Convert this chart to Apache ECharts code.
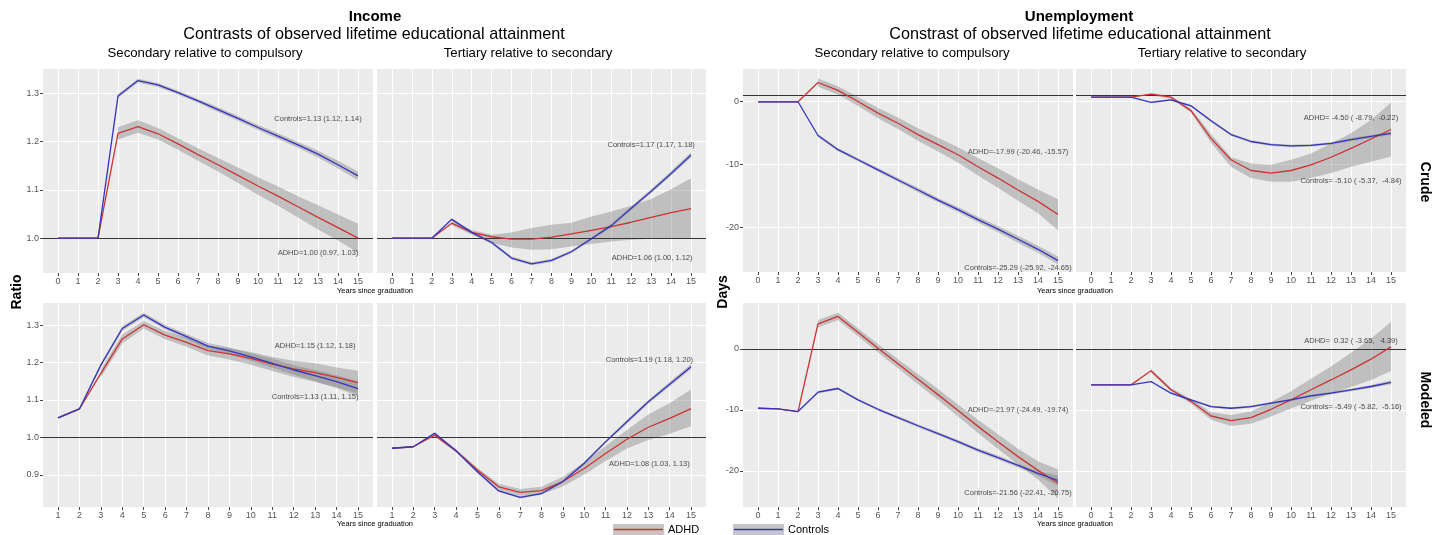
<!DOCTYPE html>
<html><head><meta charset="utf-8">
<script src="https://cdn.jsdelivr.net/npm/echarts@6/dist/echarts.min.js"></script>
<style>html,body{margin:0;padding:0;background:#fff}#c{width:1445px;height:535px}</style>
</head><body><div id="c"></div>
<script>
// ---------- categories / ticks ----------
const yearsA = [0,1,2,3,4,5,6,7,8,9,10,11,12,13,14,15];
const yearsB = [1,2,3,4,5,6,7,8,9,10,11,12,13,14,15];
const incTopYTicks = [1.0,1.1,1.2,1.3];
const incBotYTicks = [0.9,1.0,1.1,1.2,1.3];
const unempYTicks = [-20,-10,0];

// ---------- Income, crude, secondary vs compulsory ----------
const incCrSecCtrl   = [1.0,1.0,1.0,1.294,1.326,1.317,1.301,1.284,1.266,1.248,1.229,1.211,1.193,1.174,1.152,1.129];
const incCrSecCtrlLo = [null,null,null,1.290,1.322,1.313,1.297,1.280,1.261,1.243,1.224,1.205,1.187,1.167,1.144,1.120];
const incCrSecCtrlHi = [null,null,null,1.298,1.330,1.321,1.305,1.288,1.271,1.253,1.234,1.217,1.199,1.181,1.160,1.138];
const incCrSecAdhd   = [1.0,1.0,1.0,1.217,1.231,1.216,1.195,1.173,1.152,1.130,1.108,1.087,1.065,1.043,1.022,1.000];
const incCrSecAdhdLo = [null,null,null,1.204,1.218,1.204,1.183,1.160,1.138,1.114,1.090,1.067,1.043,1.018,0.995,0.970];
const incCrSecAdhdHi = [null,null,null,1.230,1.244,1.228,1.207,1.186,1.166,1.146,1.126,1.107,1.087,1.068,1.049,1.030];

// ---------- Income, crude, tertiary vs secondary ----------
const incCrTerCtrl   = [1.0,1.0,1.0,1.039,1.012,0.991,0.959,0.947,0.954,0.972,0.999,1.026,1.062,1.097,1.134,1.172];
const incCrTerCtrlLo = [null,null,null,1.036,1.009,0.988,0.956,0.944,0.951,0.969,0.996,1.022,1.058,1.093,1.129,1.167];
const incCrTerCtrlHi = [null,null,null,1.042,1.015,0.994,0.962,0.950,0.957,0.975,1.002,1.030,1.066,1.101,1.139,1.178];
const incCrTerAdhd   = [1.0,1.0,1.0,1.031,1.012,1.003,0.998,0.998,1.002,1.009,1.016,1.024,1.033,1.043,1.053,1.061];
const incCrTerAdhdLo = [null,null,null,1.027,1.007,0.990,0.981,0.976,0.977,0.983,0.988,0.993,0.997,0.999,1.000,1.000];
const incCrTerAdhdHi = [null,null,null,1.035,1.017,1.007,1.012,1.021,1.028,1.032,1.045,1.055,1.067,1.081,1.101,1.124];

// ---------- Income, modeled, secondary vs compulsory ----------
const incMoSecCtrl   = [1.052,1.076,1.193,1.291,1.327,1.294,1.269,1.244,1.231,1.215,1.198,1.180,1.165,1.149,1.130];
const incMoSecCtrlLo = [1.049,1.073,1.188,1.285,1.321,1.288,1.262,1.236,1.222,1.205,1.186,1.167,1.150,1.132,1.110];
const incMoSecCtrlHi = [1.055,1.079,1.198,1.297,1.333,1.300,1.276,1.252,1.240,1.225,1.210,1.193,1.180,1.166,1.150];
const incMoSecAdhd   = [1.052,1.076,1.171,1.263,1.301,1.273,1.254,1.232,1.223,1.211,1.196,1.183,1.173,1.160,1.146];
const incMoSecAdhdLo = [null,null,1.160,1.251,1.291,1.262,1.242,1.219,1.208,1.194,1.177,1.161,1.148,1.133,1.117];
const incMoSecAdhdHi = [null,null,1.182,1.275,1.311,1.284,1.266,1.245,1.238,1.228,1.215,1.205,1.198,1.187,1.178];

// ---------- Income, modeled, tertiary vs secondary ----------
const incMoTerCtrl   = [0.971,0.975,1.011,0.964,0.908,0.857,0.840,0.850,0.882,0.931,0.988,1.042,1.095,1.142,1.189];
const incMoTerCtrlLo = [0.969,0.973,1.008,0.961,0.905,0.854,0.837,0.847,0.879,0.927,0.984,1.037,1.090,1.136,1.182];
const incMoTerCtrlHi = [0.973,0.977,1.014,0.967,0.911,0.860,0.843,0.853,0.885,0.935,0.992,1.047,1.100,1.148,1.196];
const incMoTerAdhd   = [0.971,0.975,1.006,0.964,0.913,0.868,0.853,0.858,0.882,0.917,0.957,0.995,1.027,1.051,1.077];
const incMoTerAdhdLo = [null,null,1.002,0.960,0.907,0.860,0.844,0.848,0.869,0.901,0.937,0.970,0.993,1.010,1.030];
const incMoTerAdhdHi = [null,null,1.010,0.968,0.919,0.876,0.862,0.868,0.895,0.933,0.977,1.020,1.061,1.092,1.128];

// ---------- Unemployment, crude, secondary vs compulsory ----------
const unCrSecCtrl   = [-0.1,-0.1,-0.1,-5.45,-7.7,-9.3,-10.9,-12.5,-14.1,-15.7,-17.2,-18.8,-20.3,-21.9,-23.5,-25.29];
const unCrSecCtrlLo = [null,null,null,-5.7,-7.95,-9.55,-11.2,-12.8,-14.45,-16.05,-17.6,-19.25,-20.8,-22.45,-24.05,-25.92];
const unCrSecCtrlHi = [null,null,null,-5.2,-7.45,-9.05,-10.6,-12.2,-13.75,-15.35,-16.8,-18.35,-19.8,-21.35,-22.95,-24.65];
const unCrSecAdhd   = [-0.1,-0.1,-0.1,2.96,1.7,-0.05,-1.9,-3.5,-5.3,-6.9,-8.5,-10.4,-12.2,-14.1,-15.9,-17.99];
const unCrSecAdhdLo = [null,null,null,2.3,1.05,-0.75,-2.7,-4.4,-6.3,-8.0,-9.75,-11.8,-13.75,-15.8,-17.8,-20.46];
const unCrSecAdhdHi = [null,null,null,3.6,2.35,0.65,-1.1,-2.6,-4.3,-5.8,-7.3,-9.0,-10.65,-12.4,-14.0,-15.57];

// ---------- Unemployment, crude, tertiary vs secondary ----------
const unCrTerCtrl   = [0.63,0.63,0.63,-0.2,0.2,-0.74,-3.1,-5.3,-6.4,-6.9,-7.1,-7.0,-6.7,-6.1,-5.6,-5.10];
const unCrTerCtrlLo = [null,null,null,-0.35,0.05,-0.9,-3.3,-5.5,-6.6,-7.1,-7.3,-7.2,-6.9,-6.35,-5.85,-5.37];
const unCrTerCtrlHi = [null,null,null,-0.05,0.35,-0.58,-2.9,-5.1,-6.2,-6.7,-6.9,-6.8,-6.5,-5.85,-5.35,-4.84];
const unCrTerAdhd   = [0.63,0.63,0.63,1.1,0.63,-1.5,-5.9,-9.3,-11.0,-11.4,-11.0,-10.1,-8.9,-7.5,-6.0,-4.50];
const unCrTerAdhdLo = [null,null,null,0.9,0.4,-1.8,-6.6,-10.4,-12.2,-12.8,-12.8,-12.2,-11.4,-10.4,-9.6,-8.79];
const unCrTerAdhdHi = [null,null,null,1.3,0.86,-1.2,-5.2,-8.9,-9.9,-10.1,-9.3,-8.3,-6.7,-5.1,-3.0,-0.22];

// ---------- Unemployment, modeled, secondary vs compulsory ----------
const unMoSecCtrl   = [-9.73,-9.84,-10.27,-7.1,-6.5,-8.36,-9.9,-11.26,-12.6,-13.9,-15.2,-16.6,-17.8,-19.1,-20.4,-21.56];
const unMoSecCtrlLo = [null,null,null,-7.3,-6.7,-8.56,-10.12,-11.5,-12.85,-14.17,-15.48,-16.9,-18.12,-19.44,-20.77,-22.41];
const unMoSecCtrlHi = [null,null,null,-6.9,-6.3,-8.16,-9.68,-11.02,-12.35,-13.63,-14.92,-16.3,-17.48,-18.76,-20.03,-20.75];
const unMoSecAdhd   = [-9.73,-9.84,-10.27,4.1,5.3,2.7,0.1,-2.46,-4.97,-7.5,-10.1,-12.7,-15.2,-17.65,-19.9,-21.97];
const unMoSecAdhdLo = [null,null,null,3.5,4.7,2.05,-0.6,-3.2,-5.8,-8.4,-11.1,-13.8,-16.4,-18.95,-21.4,-24.49];
const unMoSecAdhdHi = [null,null,null,4.7,5.9,3.35,0.8,-1.72,-4.14,-6.6,-9.1,-11.6,-14.0,-16.35,-18.4,-19.74];

// ---------- Unemployment, modeled, tertiary vs secondary ----------
const unMoTerCtrl   = [-5.9,-5.9,-5.9,-5.36,-7.27,-8.36,-9.45,-9.73,-9.45,-8.9,-8.36,-7.7,-7.27,-6.72,-6.17,-5.49];
const unMoTerCtrlLo = [null,null,null,-5.5,-7.42,-8.52,-9.62,-9.9,-9.63,-9.08,-8.55,-7.9,-7.48,-6.94,-6.4,-5.82];
const unMoTerCtrlHi = [null,null,null,-5.22,-7.12,-8.2,-9.28,-9.56,-9.27,-8.72,-8.17,-7.5,-7.06,-6.5,-5.94,-5.16];
const unMoTerAdhd   = [-5.9,-5.9,-5.9,-3.6,-6.7,-8.6,-11.0,-11.75,-11.26,-9.9,-8.36,-6.7,-5.1,-3.44,-1.7,0.32];
const unMoTerAdhdLo = [null,null,null,-3.9,-7.0,-9.0,-11.6,-12.65,-12.26,-11.1,-9.76,-8.5,-7.3,-6.24,-5.1,-3.65];
const unMoTerAdhdHi = [null,null,null,-3.3,-6.4,-8.2,-10.4,-10.85,-10.26,-8.7,-6.96,-4.9,-2.9,-0.64,1.7,4.39];

// ---------- annotation texts [x, y, text] ----------
const annIncCrSec = [[13.0,1.247,'Controls=1.13 (1.12, 1.14)'],[13.0,0.969,'ADHD=1.00 (0.97, 1.03)']];
const annIncCrTer = [[13.0,1.193,'Controls=1.17 (1.17, 1.18)'],[13.05,0.959,'ADHD=1.06 (1.00, 1.12)']];
const annIncMoSec = [[13.0,1.245,'ADHD=1.15 (1.12, 1.18)'],[13.0,1.109,'Controls=1.13 (1.11, 1.15)']];
const annIncMoTer = [[13.05,1.208,'Controls=1.19 (1.18, 1.20)'],[13.05,0.928,'ADHD=1.08 (1.03, 1.13)']];
const annUnCrSec  = [[13.0,-8.1,'ADHD=-17.99 (-20.46, -15.57)'],[13.0,-26.4,'Controls=-25.29 (-25.92, -24.65)']];
const annUnCrTer  = [[13.0,-2.6,'ADHD= -4.50 ( -8.79,  -0.22)'],[13.0,-12.6,'Controls= -5.10 ( -5.37,  -4.84)']];
const annUnMoSec  = [[13.0,-10.0,'ADHD=-21.97 (-24.49, -19.74)'],[13.0,-23.55,'Controls=-21.56 (-22.41, -20.75)']];
const annUnMoTer  = [[13.0,1.3,'ADHD=  0.32 ( -3.65,   4.39)'],[13.0,-9.56,'Controls= -5.49 ( -5.82,  -5.16)']];

// ---------- layout ----------
const FONT = 'Liberation Sans, Arial, Helvetica, sans-serif';
const RED = '#cc3333', BLUE = '#3434c0';
const panels = [
  {g:[43,69,330,204],  xs:yearsA, xr:[-0.75,15.75], yr:[0.928,1.350], yt:incTopYTicks, yl:true,  ref:1, dec:1,
   c:[incCrSecCtrl,incCrSecCtrlLo,incCrSecCtrlHi], a:[incCrSecAdhd,incCrSecAdhdLo,incCrSecAdhdHi], ann:annIncCrSec},
  {g:[377,69,329,204], xs:yearsA, xr:[-0.75,15.75], yr:[0.928,1.350], yt:incTopYTicks, yl:false, ref:1, dec:1,
   c:[incCrTerCtrl,incCrTerCtrlLo,incCrTerCtrlHi], a:[incCrTerAdhd,incCrTerAdhdLo,incCrTerAdhdHi], ann:annIncCrTer},
  {g:[43,303,330,204], xs:yearsB, xr:[0.3,15.7], yr:[0.814,1.359], yt:incBotYTicks, yl:true,  ref:1, dec:1,
   c:[incMoSecCtrl,incMoSecCtrlLo,incMoSecCtrlHi], a:[incMoSecAdhd,incMoSecAdhdLo,incMoSecAdhdHi], ann:annIncMoSec},
  {g:[377,303,329,204], xs:yearsB, xr:[0.3,15.7], yr:[0.814,1.359], yt:incBotYTicks, yl:false, ref:1, dec:1,
   c:[incMoTerCtrl,incMoTerCtrlLo,incMoTerCtrlHi], a:[incMoTerAdhd,incMoTerAdhdLo,incMoTerAdhdHi], ann:annIncMoTer},
  {g:[743,69,330,203], xs:yearsA, xr:[-0.75,15.75], yr:[-27.1,5.1], yt:unempYTicks, yl:true,  ref:1, dec:0,
   c:[unCrSecCtrl,unCrSecCtrlLo,unCrSecCtrlHi], a:[unCrSecAdhd,unCrSecAdhdLo,unCrSecAdhdHi], ann:annUnCrSec},
  {g:[1076,69,330,203], xs:yearsA, xr:[-0.75,15.75], yr:[-27.1,5.1], yt:unempYTicks, yl:false, ref:1, dec:0,
   c:[unCrTerCtrl,unCrTerCtrlLo,unCrTerCtrlHi], a:[unCrTerAdhd,unCrTerAdhdLo,unCrTerAdhdHi], ann:annUnCrTer},
  {g:[743,303,330,204], xs:yearsA, xr:[-0.75,15.75], yr:[-25.9,7.5], yt:unempYTicks, yl:true,  ref:0, dec:0,
   c:[unMoSecCtrl,unMoSecCtrlLo,unMoSecCtrlHi], a:[unMoSecAdhd,unMoSecAdhdLo,unMoSecAdhdHi], ann:annUnMoSec},
  {g:[1076,303,330,204], xs:yearsA, xr:[-0.75,15.75], yr:[-25.9,7.5], yt:unempYTicks, yl:false, ref:0, dec:0,
   c:[unMoTerCtrl,unMoTerCtrlLo,unMoTerCtrlHi], a:[unMoTerAdhd,unMoTerAdhdLo,unMoTerAdhdHi], ann:annUnMoTer}
];

function band(i, xs, lo, hi) {
  return {
    type:'custom', xAxisIndex:i, yAxisIndex:i, silent:true, z:1, data:[[xs[0], 0]],
    renderItem: function(params, api) {
      const top = [], bot = [];
      for (let k = 0; k < xs.length; k++) {
        if (lo[k] == null || hi[k] == null) continue;
        top.push(api.coord([xs[k], hi[k]]));
        bot.push(api.coord([xs[k], lo[k]]));
      }
      if (!top.length) return null;
      return {type:'polygon', shape:{points: top.concat(bot.reverse())},
              style:{fill:'rgba(125,125,125,0.40)'}};
    }
  };
}

const grid = [], xAxis = [], yAxis = [], series = [];
panels.forEach((p, i) => {
  grid.push({left:p.g[0], top:p.g[1], width:p.g[2], height:p.g[3], show:true,
             backgroundColor:'#EBEBEB', borderWidth:0});
  xAxis.push({type:'value', gridIndex:i, min:p.xr[0], max:p.xr[1], position:'bottom',
    axisLine:{show:false, onZero:false},
    axisTick:{show:true, length:3, lineStyle:{color:'#444', width:1}, customValues:p.xs},
    axisLabel:{show:true, customValues:p.xs, fontSize:9, color:'#555', margin:4, fontFamily:FONT},
    splitLine:{show:true, lineStyle:{color:'#ffffff', width:1.1}}});
  yAxis.push({type:'value', gridIndex:i, min:p.yr[0], max:p.yr[1], position:'left',
    axisLine:{show:false, onZero:false},
    axisTick:{show:p.yl, length:3, lineStyle:{color:'#444', width:1}, customValues:p.yt},
    axisLabel:{show:p.yl, customValues:p.yt, fontSize:9, color:'#555', margin:4, fontFamily:FONT,
      formatter: v => Number(v).toFixed(p.dec)},
    splitLine:{show:true, lineStyle:{color:'#ffffff', width:1.1}}});
  series.push(band(i, p.xs, p.c[1], p.c[2]));
  series.push(band(i, p.xs, p.a[1], p.a[2]));
  series.push({type:'line', name:'ADHD', xAxisIndex:i, yAxisIndex:i, z:3, silent:true,
    showSymbol:false, symbol:'none', lineStyle:{color:RED, width:1.3}, itemStyle:{color:RED},
    data: p.xs.map((x,k) => [x, p.a[0][k]]),
    markLine:{silent:true, symbol:'none', label:{show:false}, z:2,
      lineStyle:{color:'#333333', width:1.1, type:'solid'}, data:[{yAxis:p.ref}]}});
  series.push({type:'line', name:'Controls', xAxisIndex:i, yAxisIndex:i, z:4, silent:true,
    showSymbol:false, symbol:'none', lineStyle:{color:BLUE, width:1.3}, itemStyle:{color:BLUE},
    data: p.xs.map((x,k) => [x, p.c[0][k]])});
  series.push({type:'scatter', xAxisIndex:i, yAxisIndex:i, z:5, silent:true, symbolSize:1,
    itemStyle:{color:'rgba(0,0,0,0)'},
    label:{show:true, position:'inside', fontSize:7.5, color:'#1a1a1a', fontFamily:FONT,
      formatter: q => q.data[2]},
    data: p.ann});
});

function txt(t, x, y, size, weight, rot, color) {
  return {type:'text', x:x, y:y, rotation:rot || 0, silent:true,
    style:{text:t, x:0, y:0, fill:color || '#000', fontSize:size, fontWeight:weight || 'normal',
      fontFamily:FONT, align:'center', verticalAlign:'middle', textAlign:'center', textVerticalAlign:'middle'}};
}
const graphic = [
  txt('Income', 375, 17, 15, 'bold'),
  txt('Contrasts of observed lifetime educational attainment', 374, 35, 16.2),
  txt('Secondary relative to compulsory', 205, 53, 13.2),
  txt('Tertiary relative to secondary', 528, 53, 13.2),
  txt('Unemployment', 1079, 17, 15, 'bold'),
  txt('Constrast of observed lifetime educational attainment', 1080, 35, 16.2),
  txt('Secondary relative to compulsory', 912, 53, 13.2),
  txt('Tertiary relative to secondary', 1222, 53, 13.2),
  txt('Years since graduation', 375, 291, 7.5),
  txt('Years since graduation', 375, 524, 7.5),
  txt('Years since graduation', 1075, 291, 7.5),
  txt('Years since graduation', 1075, 524, 7.5),
  txt('Ratio', 17, 292, 14, 'bold', Math.PI/2),
  txt('Days', 723, 292, 14, 'bold', Math.PI/2),
  txt('Crude', 1425, 182, 14, 'bold', -Math.PI/2),
  txt('Modeled', 1425, 400, 14, 'bold', -Math.PI/2),
  {type:'rect', silent:true, shape:{x:613, y:524, width:51, height:11}, style:{fill:'#c6c6c6'}},
  {type:'line', silent:true, shape:{x1:614, y1:529.5, x2:663, y2:529.5}, style:{stroke:RED, lineWidth:1.3}},
  {type:'text', silent:true, style:{text:'ADHD', x:668, y:530, fontSize:11, fontFamily:FONT, fill:'#000',
     verticalAlign:'middle', textVerticalAlign:'middle'}},
  {type:'rect', silent:true, shape:{x:733, y:524, width:51, height:11}, style:{fill:'#c6c6c6'}},
  {type:'line', silent:true, shape:{x1:734, y1:529.5, x2:783, y2:529.5}, style:{stroke:BLUE, lineWidth:1.3}},
  {type:'text', silent:true, style:{text:'Controls', x:788, y:530, fontSize:11, fontFamily:FONT, fill:'#000',
     verticalAlign:'middle', textVerticalAlign:'middle'}}
];

const chart = echarts.init(document.getElementById('c'), null, {renderer:'canvas'});
chart.setOption({animation:false, backgroundColor:'#ffffff', grid, xAxis, yAxis, series, graphic});
</script>
</body></html>
